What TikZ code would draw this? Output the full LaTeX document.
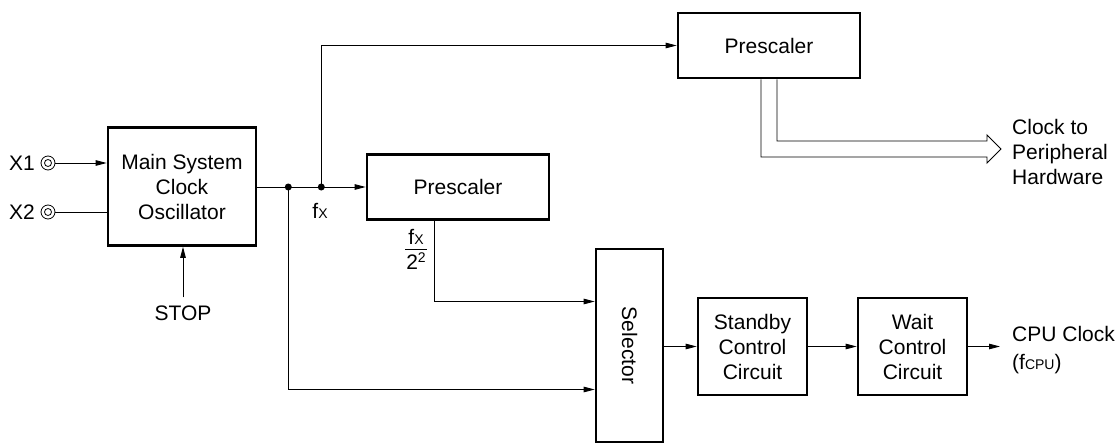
\documentclass[tikz,border=0pt]{standalone}
\usepackage{fontspec}
\usepackage{graphicx}
\setmainfont{Liberation Sans}
\usetikzlibrary{arrows.meta,calc}
\newcommand{\smtxt}[1]{{\fontsize{14}{14}\selectfont #1}}
\begin{document}
\begin{tikzpicture}[x=1pt,y=-1pt,
  every node/.style={font=\fontsize{21}{25}\selectfont},
  blk/.style={draw, line width=2.6pt, inner sep=0pt, align=center},
  ln/.style={line width=0.9pt},
  arr/.style={ln, -{Triangle[length=11pt,width=5.5pt]}},
  dotc/.style={circle, fill, inner sep=0pt, minimum size=7pt},
  term/.style={circle, draw, line width=0.8pt, inner sep=0pt}
]
\useasboundingbox (0,0) rectangle (1119,444);

% blocks
\node[blk, minimum width=148pt, minimum height=118pt] (osc) at (182,186.5) {Main System\\Clock\\Oscillator};
\node[blk, minimum width=182pt, minimum height=65pt] (pre1) at (769,45.5) {Prescaler};
\node[blk, minimum width=182pt, minimum height=65pt] (pre2) at (458,187) {Prescaler};
\node[blk, minimum width=67pt, minimum height=193pt] (sel) at (629.5,345.5) {\rotatebox{-90}{Selector}};
\node[blk, minimum width=109pt, minimum height=97pt] (stb) at (752.5,346.5) {Standby\\Control\\Circuit};
\node[blk, minimum width=109pt, minimum height=97pt] (wait) at (912.5,346.5) {Wait\\Control\\Circuit};

% terminals
\node[term, minimum size=14pt] (x1c) at (48,163) {};
\node[term, minimum size=7pt] (x1i) at (x1c) {};
\node[term, minimum size=14pt] (x2c) at (48,212) {};
\node[term, minimum size=7pt] (x2i) at (x2c) {};
\node[anchor=east, inner sep=0pt] (x1l) at (35,163) {X1};
\node[anchor=east, inner sep=0pt] (x2l) at (35,212) {X2};

\draw[arr] (x1c) -- (x1c -| osc.west);
\draw[ln] (x2c) -- (x2c -| osc.west);

% STOP
\node[inner sep=0pt] (stop) at (183,313) {STOP};
\draw[arr] ([yshift=8pt]stop.north) -- (stop |- osc.south);

% main clock line
\path (osc.east |- pre2) ++(31,0) coordinate (d1) ++(33,0) coordinate (d2);
\draw[arr] (osc.east |- pre2) -- (pre2.west);
\draw[arr] (d2) |- (pre1.west);
\draw[arr] (d1) |- ([yshift=-44pt]sel.west);
\draw[arr] ([xshift=-24pt]pre2.south) |- ([yshift=44pt]sel.west);
\node[dotc] (dot1) at (d1) {};
\node[dotc] (dot2) at (d2) {};

\node[inner sep=0pt] (fxl) at (320,211) {f\smtxt{X}};
\node[inner sep=0pt] (frac) at (416,252) {\setlength{\tabcolsep}{1pt}\renewcommand{\arraystretch}{1}\begin{tabular}{c}f\smtxt{X}\\[-3pt]\hline\rule{0pt}{21pt}2\raisebox{7pt}{\smtxt{2}}\end{tabular}};

% chain
\draw[arr] (sel.east |- stb) -- (stb.west);
\draw[arr] (stb.east) -- (wait.west);
\coordinate (cpu) at (1000,346.5);
\draw[arr] (wait.east) -- (cpu);
\node[anchor=west, align=left, inner sep=0pt] (cpul) at (1012,350) {CPU Clock\\[3pt](f\smtxt{CPU})};

% hollow arrow to peripheral hardware
\coordinate (tip) at (1001,149);
\draw[ln, line join=miter] ([xshift=8pt]pre1.south) |- ($(tip)+(-14,-8)$) -- ($(tip)+(-14,-14)$) -- (tip)
  -- ($(tip)+(-14,14)$) -- ($(tip)+(-14,8)$) -| ([xshift=-8pt]pre1.south);
\node[anchor=west, align=left, inner sep=0pt] (clk) at (1012,152) {Clock to\\Peripheral\\Hardware};
\end{tikzpicture}
\end{document}
